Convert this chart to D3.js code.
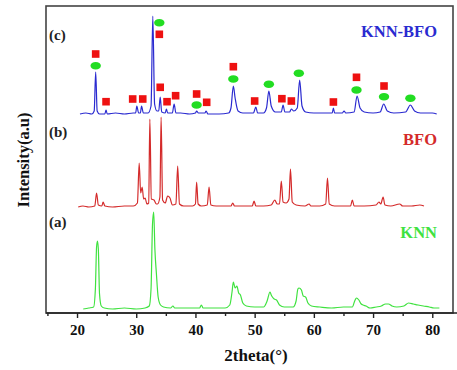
<!DOCTYPE html>
<html>
<head>
<meta charset="utf-8">
<script src="https://cdn.jsdelivr.net/npm/d3@7"></script>
<style>
  body { margin: 0; background: #fff; }
  text { font-family: "Liberation Serif", "DejaVu Serif", serif; font-weight: bold; }
</style>
</head>
<body>
<svg id="chart" width="457" height="370"></svg>
<script>
// 2theta (deg) vs intensity (a.u.), each series relative to its own baseline
const knn = [[21.05,0],[22.0,1],[22.8,2],[23.1,20],[23.3,62],[23.45,68],[23.6,60],[23.8,15],[24.1,3],[24.6,1],[26,0],[28,1],[30,0],[31.5,1],[32.2,3],[32.5,20],[32.75,85],[32.95,97],[33.15,60],[33.4,36],[33.7,12],[34.1,4],[34.6,2],[35.8,1],[36.2,3],[36.5,1],[38,1],[40.7,1],[41.0,4],[41.3,1],[43,1],[45,1],[45.8,4],[46.2,18],[46.4,27],[46.7,21],[47.0,23],[47.3,16],[47.6,14],[48.0,6],[48.6,3],[50,2],[51.5,2],[52.1,8],[52.6,17],[52.8,14],[53.0,12],[53.3,10],[53.7,9],[54.2,4],[55,2],[56.5,2],[57.0,8],[57.3,20],[57.5,21],[57.9,19],[58.2,13],[58.6,12],[59.0,6],[59.6,3],[61,2],[63,1],[65,2],[66.5,2],[66.9,8],[67.2,11],[67.6,9],[68.0,5],[68.3,4],[68.8,3],[69.5,1],[70.5,2],[71.4,3],[72.1,5],[72.6,5],[73.2,3],[74,2],[75.2,3],[76.0,6],[76.8,5],[77.6,4],[78.5,3],[79.5,2],[80.3,1],[81.2,1]];

const bfo = [[20.2,0],[21,1],[22,0],[23.0,1],[23.3,14],[23.6,2],[24.2,1],[24.4,5],[24.7,1],[26,0],[28,1],[29.5,1],[30.2,4],[30.5,44],[30.75,14],[31.0,20],[31.25,8],[31.5,9],[31.8,3],[32.1,4],[32.3,88],[32.55,8],[33.0,7],[33.4,3],[33.6,3],[34.0,10],[34.2,90],[34.45,7],[34.9,4],[35.3,11],[35.7,9],[36.1,2],[36.7,3],[37.0,41],[37.3,3],[38,1],[39.5,1],[40.0,3],[40.2,25],[40.45,3],[41,1],[42.0,2],[42.3,20],[42.6,2],[43.5,1],[45,1],[46.0,1],[46.3,4],[46.6,1],[48,1],[49.6,1],[49.9,6],[50.2,1],[51.5,1],[52.8,2],[53.4,7],[53.8,3],[54.2,3],[54.5,26],[54.8,5],[55.3,4],[55.8,8],[56.05,38],[56.35,5],[57,2],[58.5,1],[59.2,3],[59.5,1],[61,1],[62.0,3],[62.3,29],[62.6,3],[63.5,1],[65,1],[66.2,1],[66.5,7],[66.8,1],[68.5,1],[70.5,2],[71.0,5],[71.3,3],[71.7,10],[72.0,2],[73,1],[74.5,3],[75,1],[76.5,1],[77.9,2],[78.6,1]];

const knnBfo = [[20.5,0],[21.5,1],[22.5,0],[22.9,3],[23.15,42],[23.4,3],[23.8,0],[24.7,0],[24.9,4],[25.1,0],[26.5,1],[28,0],[29.5,1],[29.9,1],[30.1,8],[30.4,1],[30.7,1],[30.9,8],[31.2,1],[32.0,1],[32.5,8],[32.8,98],[33.1,10],[33.5,3],[33.8,3],[34.05,17],[34.3,2],[34.9,1],[35.1,5],[35.3,1],[36.1,1],[36.4,10],[36.7,1],[37.5,1],[39,0],[40.0,1],[40.2,3],[40.5,1],[41.6,1],[41.8,3],[42.1,0],[44,0],[45.6,1],[46.0,6],[46.4,28],[46.7,16],[47.2,3],[48,1],[49.8,1],[50.2,7],[50.5,1],[51.5,1],[52.0,6],[52.4,23],[52.8,8],[53.5,2],[54.5,2],[54.8,9],[55.1,2],[55.9,2],[56.2,5],[56.6,3],[57.2,6],[57.6,34],[58.0,8],[58.6,2],[60,1],[62,1],[63.1,1],[63.3,6],[63.5,1],[64.8,1],[65.1,3],[65.4,1],[66.8,2],[67.3,18],[67.8,6],[68.5,2],[70,1],[71.2,2],[71.8,10],[72.4,3],[73.5,1],[75.5,2],[76.3,9],[77,3],[78,1],[80,1],[80.75,0]];

// phase markers over the KNN-BFO pattern (2theta, height above its baseline)
const bfoMarks = [[23.15,60],[24.9,12.3],[29.4,15],[31.1,15],[33.9,79.7],[34.05,26.7],[35.2,12.3],[36.65,18.3],[40.2,20],[41.9,11.7],[46.4,47.3],[50.0,13],[54.6,15.3],[56.2,13],[63.3,12],[67.2,36.7],[71.85,28]];
const knnMarks = [[23.15,48.3],[33.9,91.3],[40.2,9],[46.4,35],[52.4,29.7],[57.46,40.7],[67.2,24],[71.85,17.3],[76.3,15.7]];

const xTicks = [20, 30, 40, 50, 60, 70, 80];
const xMinor = [15, 25, 35, 45, 55, 65, 75];

const series = [
  { name: 'KNN', tag: '(a)', data: knn, offset: 4, color: '#3fe23f' },
  { name: 'BFO', tag: '(b)', data: bfo, offset: 106, color: '#d42a2a' },
  { name: 'KNN-BFO', tag: '(c)', data: knnBfo, offset: 199, color: '#2a2ad0' }
];

const svg = d3.select('#chart');
const box = { left: 46, right: 453, top: 6, bottom: 313 };

const x = d3.scaleLinear().domain([14.76, 83.5]).range([box.left, box.right]);
const y = d3.scaleLinear().domain([0, 307]).range([box.bottom, box.top]);

const line = d3.line()
  .x(d => x(d[0]))
  .curve(d3.curveMonotoneX);

series.forEach(s => {
  svg.append('path')
    .datum(s.data)
    .attr('fill', 'none')
    .attr('stroke', s.color)
    .attr('stroke-width', 1.2)
    .attr('d', line.y(d => y(d[1] + s.offset)));
});

// markers
const off3 = series[2].offset;
svg.selectAll('.sq')
  .data(bfoMarks)
  .enter()
  .append('rect')
  .attr('x', d => x(d[0]) - 3.8)
  .attr('y', d => y(d[1] + off3) - 3.8)
  .attr('width', 7.6)
  .attr('height', 7.6)
  .attr('fill', '#ee1111');

svg.selectAll('.el')
  .data(knnMarks)
  .enter()
  .append('ellipse')
  .attr('cx', d => x(d[0]))
  .attr('cy', d => y(d[1] + off3))
  .attr('rx', 5.2)
  .attr('ry', 3.8)
  .attr('fill', '#22dd22');

// frame
svg.append('rect')
  .attr('x', box.left).attr('y', box.top)
  .attr('width', box.right - box.left).attr('height', box.bottom - box.top)
  .attr('fill', 'none')
  .attr('stroke', '#444')
  .attr('stroke-width', 1.6);

const xAxis = svg.append('g')
  .attr('transform', `translate(0,${box.bottom})`)
  .call(d3.axisBottom(x).tickValues(xTicks).tickSize(5).tickPadding(6).tickFormat(d3.format('d')));
xAxis.select('.domain').remove();
xAxis.selectAll('line').attr('stroke', '#222').attr('stroke-width', 1.4);
xAxis.selectAll('text').attr('font-size', 15).attr('fill', '#111').attr('font-family', 'Liberation Serif');

const xMinorAxis = svg.append('g')
  .attr('transform', `translate(0,${box.bottom})`)
  .call(d3.axisBottom(x).tickValues(xMinor).tickSize(3).tickFormat(''));
xMinorAxis.select('.domain').remove();
xMinorAxis.selectAll('line').attr('stroke', '#222').attr('stroke-width', 1.4);

svg.append('line')
  .attr('x1', box.left).attr('x2', 457)
  .attr('y1', box.bottom).attr('y2', box.bottom)
  .attr('stroke', '#222').attr('stroke-width', 1.6);

// titles
svg.append('text')
  .attr('x', 256).attr('y', 361)
  .attr('text-anchor', 'middle')
  .attr('font-size', 17)
  .attr('fill', '#111')
  .text('2theta(°)');

svg.append('text')
  .attr('transform', 'translate(29,160) rotate(-90)')
  .attr('text-anchor', 'middle')
  .attr('font-size', 16.5)
  .attr('fill', '#111')
  .text('Intensity(a.u)');

// panel tags and names
const tagY = [227, 137, 40];
const nameY = [238, 145, 37];
series.forEach((s, i) => {
  svg.append('text')
    .attr('x', 49).attr('y', tagY[i])
    .attr('font-size', 15)
    .attr('fill', '#222')
    .text(s.tag);
  svg.append('text')
    .attr('x', 437).attr('y', nameY[i])
    .attr('text-anchor', 'end')
    .attr('font-size', 16.5)
    .attr('fill', s.color)
    .text(s.name);
});
</script>
</body>
</html>
